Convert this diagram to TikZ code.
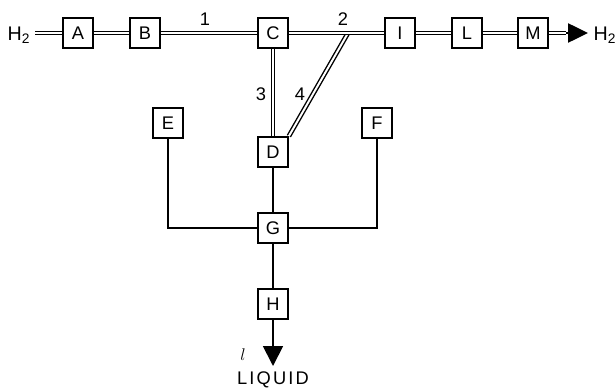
\documentclass[tikz,border=0pt]{standalone}
\usepackage{fontspec}
\setmainfont{Liberation Sans}
\usetikzlibrary{positioning,arrows.meta}

\begin{document}
\begin{tikzpicture}[x=0.025cm, y=-0.025cm,
  unitbox/.style={draw, line width=1.2pt, fill=white, minimum size=0.75cm, inner sep=0pt, font=\fontsize{13}{15}\selectfont},
  pipe/.style={double, double distance=1.4pt, line width=1pt},
  wire/.style={line width=1.3pt},
  lbl/.style={font=\fontsize{13}{15}\selectfont}]
  \useasboundingbox (0,0) rectangle (615,388);
  % units on the hydrogen line
  \node[unitbox] (A) at (78,33) {A};
  \node[unitbox] (B) at (145,33) {B};
  \node[unitbox] (C) at (273,33) {C};
  \node[unitbox] (I) at (400,33) {I};
  \node[unitbox] (L) at (467,33) {L};
  \node[unitbox] (M) at (533,33) {M};
  % units below
  \node[unitbox] (E) at (168,123) {E};
  \node[unitbox] (F) at (377,123) {F};
  \node[unitbox] (D) at (273,152) {D};
  \node[unitbox] (G) at (273,228) {G};
  \node[unitbox] (H) at (273,304) {H};
  % in and out
  \node[lbl, font=\fontsize{14}{16}\selectfont] (h2in) at (19,35) {H\textsubscript{2}};
  \node[lbl, font=\fontsize{14}{16}\selectfont] (h2out) at (605,35) {H\textsubscript{2}};
  \coordinate (j) at (348,33);
  \coordinate (outb) at (566,33);
  \coordinate (out) at (588,33);
  \coordinate (liq) at (273,366);
  % pipes
  \draw[pipe] (D.north east) -- (j);
  \draw[pipe] (h2in.east |- A) -- (A);
  \draw[pipe] (A) -- (B);
  \draw[pipe] (B) -- (C);
  \draw[pipe] (C) -- (I);
  \draw[pipe] (I) -- (L);
  \draw[pipe] (L) -- (M);
  \draw[pipe] (M) -- (outb);
  \draw[wire, -{Triangle[length=0.5cm,width=0.48cm]}] (outb) -- (out);
  \draw[pipe] (C) -- (D);
  % liquid side
  \draw[wire] (E) |- (G);
  \draw[wire] (F) |- (G);
  \draw[wire] (D) -- (G);
  \draw[wire] (G) -- (H);
  \draw[wire, -{Triangle[length=0.5cm,width=0.5cm]}] (H) -- (liq);
  % labels
  \node[lbl] (n1) at (205,19) {1};
  \node[lbl] (n2) at (343,19) {2};
  \node[lbl] (n3) at (261,94) {3};
  \node[lbl] (n4) at (300,94) {4};
  \node[lbl] (ell) at (243,355) {$l$};
  \node[lbl] (liquid) at (273,380) {\addfontfeature{LetterSpace=12}LIQUID};
\end{tikzpicture}
\end{document}
